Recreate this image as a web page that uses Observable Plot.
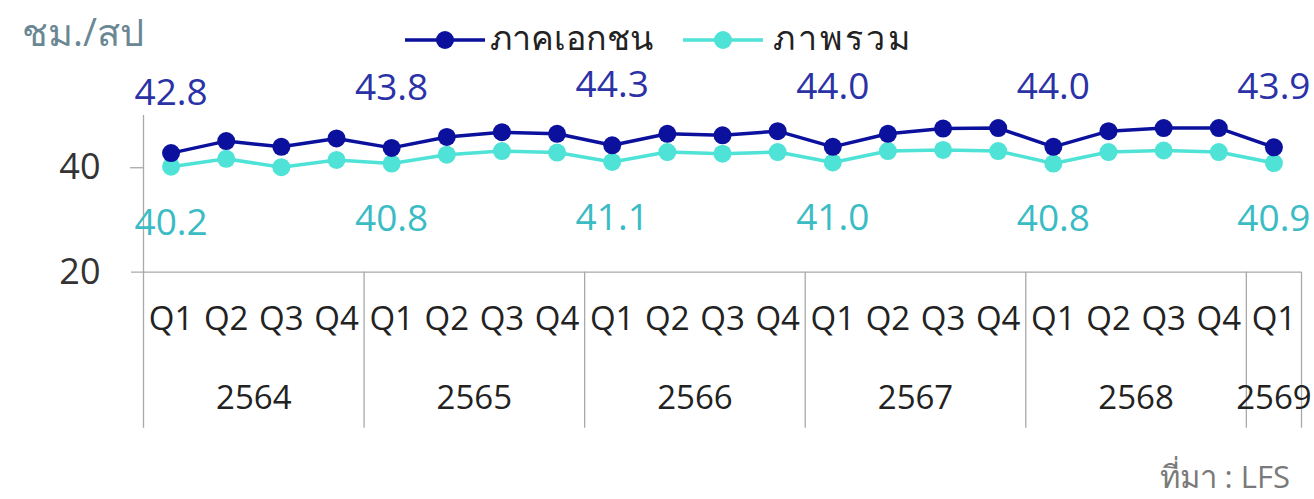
<!DOCTYPE html>
<html>
<head>
<meta charset="utf-8">
<script src="https://cdn.jsdelivr.net/npm/d3@7"></script>
<script src="https://cdn.jsdelivr.net/npm/@observablehq/plot@0.6"></script>
<style>
  html, body { margin: 0; padding: 0; background: #fff; }
  #wrap { position: relative; width: 1314px; height: 499px; overflow: hidden; font-family: "Open Sans", "Noto Sans", "DejaVu Sans", sans-serif; }
  #title { position: absolute; left: 22px; top: 2px; font-size: 38px; color: #6a8794; }
  .leg { position: absolute; top: 17px; font-size: 34px; color: #222; line-height: 40px; }
  .sw { position: absolute; top: 28px; }
  #source { position: absolute; right: 24px; top: 452px; font-size: 31px; color: #7a7a7a; }
  #chart { position: absolute; left: 0; top: 0; }
</style>
</head>
<body>
<div id="wrap">
  <div id="chart"></div>
  <div id="title">ชม./สป</div>
  <svg class="sw" style="left:405px" width="80" height="24"><line x1="0" y1="12" x2="80" y2="12" stroke="#0b119c" stroke-width="3.5"/><circle cx="40" cy="12" r="9" fill="#0b119c"/></svg>
  <div class="leg" id="leg1" style="left:490px"></div>
  <svg class="sw" style="left:683px" width="80" height="24"><line x1="0" y1="12" x2="80" y2="12" stroke="#4fe2d6" stroke-width="3.5"/><circle cx="40" cy="12" r="9" fill="#4fe2d6"/></svg>
  <div class="leg" id="leg2" style="left:773px; letter-spacing:3px"></div>
  <div id="source">ที่มา : LFS</div>
</div>
<script>
const quarters = ["Q1","Q2","Q3","Q4","Q1","Q2","Q3","Q4","Q1","Q2","Q3","Q4","Q1","Q2","Q3","Q4","Q1","Q2","Q3","Q4","Q1"];
const years = [2564,2564,2564,2564,2565,2565,2565,2565,2566,2566,2566,2566,2567,2567,2567,2567,2568,2568,2568,2568,2569];
const privateHours = [42.8,45.1,44.0,45.6, 43.8,45.9,46.8,46.5, 44.3,46.5,46.2,47.0, 44.0,46.5,47.5,47.6, 44.0,47.0,47.6,47.6, 43.9];
const totalHours = [40.2,41.7,40.1,41.5, 40.8,42.5,43.2,42.9, 41.1,43.0,42.7,43.0, 41.0,43.2,43.4,43.2, 40.8,43.0,43.3,43.0, 40.9];
const seriesNames = ["ภาคเอกชน", "ภาพรวม"];
const yTicks = [20, 40];

document.getElementById("leg1").textContent = seriesNames[0];
document.getElementById("leg2").textContent = seriesNames[1];

const W = 1314, H = 499;
const mL = 143, mR = 13, mT = 115, mB = 227.3;
const frameH = H - mT - mB;
const frameW = W - mL - mR;
const below = 156;

const data = quarters.map((q, i) => ({i, q, year: years[i], priv: privateHours[i], tot: totalHours[i]}));
const labeled = data.filter(d => d.q === "Q1");
const yearList = [...new Set(years)];
const yearCenters = yearList.map(y => {
  const idx = data.filter(d => d.year === y).map(d => d.i);
  return {year: y, x: d3.mean(idx), first: d3.min(idx), last: d3.max(idx)};
});
const seps = yearCenters.map(d => d.first - 0.5).filter(x => x > -0.5).concat([yearCenters[yearCenters.length - 1].last + 0.5]);

const gridColor = "#a9a9a9";
const navy = "#0b119c", teal = "#4fe2d6";

const chart = Plot.plot({
  width: W, height: H,
  marginLeft: mL, marginRight: mR, marginTop: mT, marginBottom: mB,
  style: {fontFamily: "'Open Sans', 'Noto Sans', sans-serif", color: "#333", background: "transparent", overflow: "visible"},
  x: {type: "linear", domain: [-0.5, quarters.length - 0.5], axis: null},
  y: {domain: [20, 50], axis: null},
  marks: [
    Plot.ruleX([-0.5], {stroke: gridColor, strokeWidth: 1.3, insetBottom: -below}),
    Plot.ruleX(seps, {stroke: gridColor, strokeWidth: 1.3, insetTop: frameH, insetBottom: -below}),
    Plot.ruleY([20], {stroke: gridColor, strokeWidth: 1.3, insetLeft: -12}),
    Plot.ruleY([40], {stroke: gridColor, strokeWidth: 1.3, insetLeft: -13, insetRight: frameW}),
    Plot.axisY({ticks: yTicks, tickSize: 0, tickPadding: 43, fontSize: 36, fill: "#333"}),
    Plot.line(data, {x: "i", y: "tot", stroke: teal, strokeWidth: 3.5}),
    Plot.dot(data, {x: "i", y: "tot", r: 9, fill: teal}),
    Plot.line(data, {x: "i", y: "priv", stroke: navy, strokeWidth: 3.5}),
    Plot.dot(data, {x: "i", y: "priv", r: 9, fill: navy}),
    Plot.text(labeled, {x: "i", y: "priv", text: d => d.priv.toFixed(1), dy: -60, fontSize: 37, fill: "#2b32a6"}),
    Plot.text(labeled, {x: "i", y: "tot", text: d => d.tot.toFixed(1), dy: 56, fontSize: 37, fill: "#3bbcc4"}),
    Plot.text(data, {x: "i", text: "q", frameAnchor: "bottom", dy: 58, fontSize: 33, fill: "#222"}),
    Plot.text(yearCenters, {x: "x", text: d => String(d.year), frameAnchor: "bottom", dy: 137, fontSize: 33, fill: "#222"})
  ]
});
document.getElementById("chart").appendChild(chart);
</script>
</body>
</html>
